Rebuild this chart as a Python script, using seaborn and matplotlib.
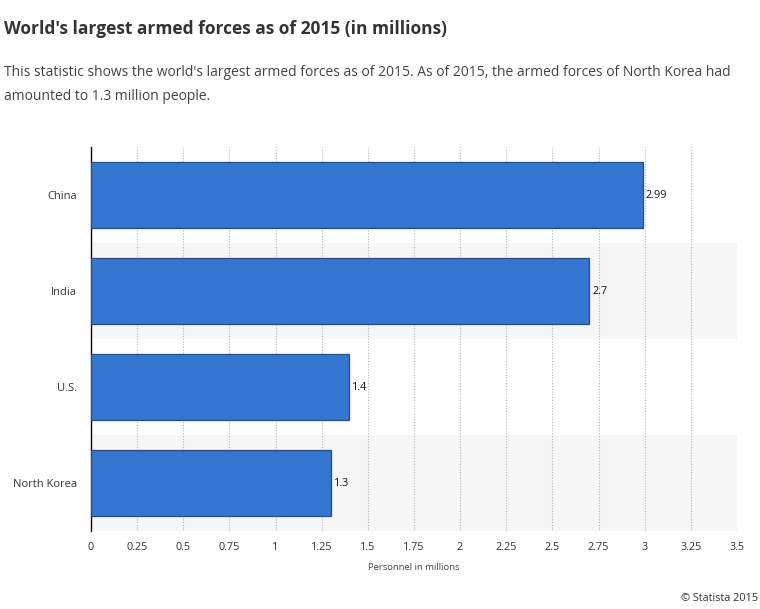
import matplotlib
matplotlib.use("Agg")
import matplotlib.pyplot as plt
import seaborn as sns
import pandas as pd

countries = ["China", "India", "U.S.", "North Korea"]
personnel = [2.99, 2.7, 1.4, 1.3]
value_labels = ["2.99", "2.7", "1.4", "1.3"]
x_ticks = [0, 0.25, 0.5, 0.75, 1, 1.25, 1.5, 1.75, 2, 2.25, 2.5, 2.75, 3, 3.25, 3.5]
x_tick_labels = ["0", "0.25", "0.5", "0.75", "1", "1.25", "1.5", "1.75", "2",
                 "2.25", "2.5", "2.75", "3", "3.25", "3.5"]

def main():
    sns.set_style("white")
    plt.rcParams['font.family'] = ['Open Sans', 'DejaVu Sans']

    df = pd.DataFrame({"Country": countries, "Personnel": personnel})

    fig = plt.figure(figsize=(7.6, 6.09), dpi=100)
    ax = fig.add_axes([0.1197, 0.128, 0.85, 0.6305])

    # bandas alternas de fondo
    for i in range(len(countries)):
        if i % 2 == 1:
            ax.axhspan(i - 0.5, i + 0.5, color="#f6f6f6", zorder=0, lw=0)

    sns.barplot(data=df, x="Personnel", y="Country", orient="h", color="#3476d2",
                saturation=1, width=0.68, edgecolor="#1d4f8f", linewidth=0.9,
                ax=ax, zorder=3)

    ax.bar_label(ax.containers[0], labels=value_labels, padding=2, fontsize=7.8,
                 color="#111111")

    ax.set_xlim(0, 3.5)
    ax.set_ylim(len(countries) - 0.5, -0.5)
    ax.set_xticks(x_ticks)
    ax.set_xticklabels(x_tick_labels, fontsize=7.8, color="#333333")
    ax.tick_params(axis="y", labelsize=8, labelcolor="#333333", length=0, pad=10)
    ax.tick_params(axis="x", length=0, pad=8)
    ax.set_ylabel("")
    ax.set_xlabel("Personnel in millions", fontsize=6.8, color="#444444", labelpad=7)

    ax.xaxis.grid(True, linestyle=(0, (1, 1.5)), color="#b8b8b8", linewidth=0.8, zorder=1)
    ax.set_axisbelow(True)
    for s in ["top", "right", "bottom"]:
        ax.spines[s].set_visible(False)
    ax.spines["left"].set_color("#000000")
    ax.spines["left"].set_linewidth(1.0)

    fig.text(0.005, 0.953, "World's largest armed forces as of 2015 (in millions)",
             fontsize=12.5, fontweight="bold", color="#333333", va="center")
    fig.text(0.005, 0.881, "This statistic shows the world's largest armed forces as of 2015. "
             "As of 2015, the armed forces of North Korea had", fontsize=10,
             color="#444444", va="center")
    fig.text(0.005, 0.842, "amounted to 1.3 million people.", fontsize=10,
             color="#444444", va="center")
    fig.text(0.997, 0.018, "© Statista 2015", fontsize=7.8, color="#333333",
             ha="right", va="center")

    fig.savefig("out.png", dpi=100)
    plt.close(fig)

if __name__ == "__main__":
    main()
